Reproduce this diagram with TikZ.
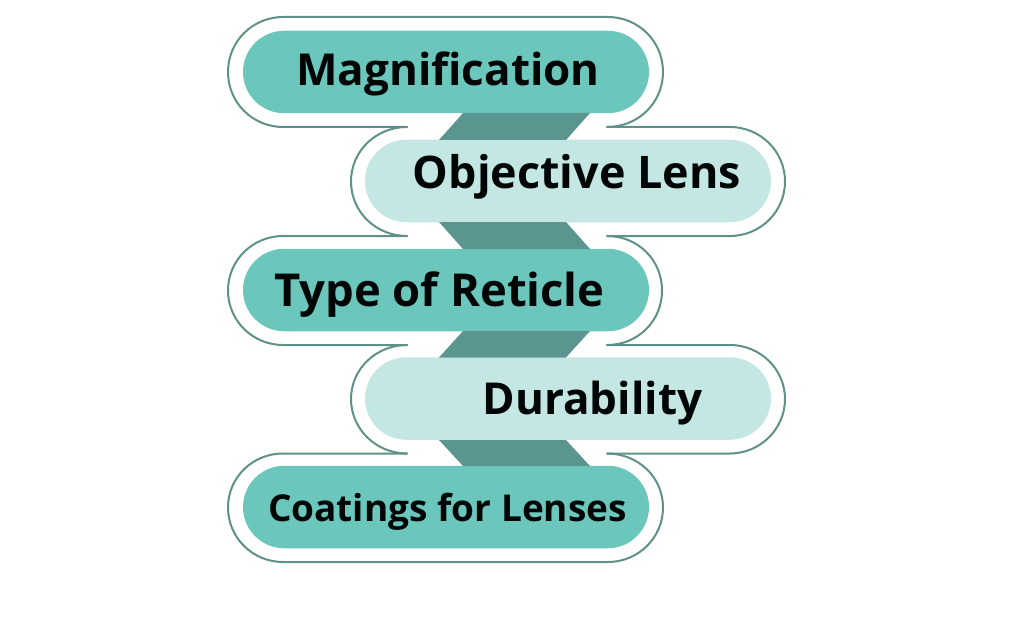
\documentclass[tikz,border=0pt]{standalone}
\usepackage{fontspec}
\setmainfont{Open Sans}
\usetikzlibrary{shapes.misc}
\definecolor{tealdark}{HTML}{6BC7BC}
\definecolor{teallight}{HTML}{C5E7E3}
\definecolor{bridge}{HTML}{5A968F}
\definecolor{edgeline}{HTML}{5F9189}
\tikzset{
  x=1pt,y=-1pt,
  pill/.style={rounded rectangle,draw=none,minimum width=406pt,minimum height=82.5pt,inner sep=0pt},
  pilldark/.style={pill,fill=tealdark},
  pilllight/.style={pill,fill=teallight},
  link/.style={fill=bridge,draw=none},
  contour/.style={draw=edgeline,line width=2pt,line cap=round},
  caption/.style={anchor=base,inner sep=0pt,text=black!95!teal,font=\bfseries}
}
\begin{document}
\begin{tikzpicture}
\useasboundingbox (0,0) rectangle (1011,639);
\fill[white] (0,0) rectangle (1011,639);
% pills
\node[pilldark]  (p1) at (446,72)   {};
\node[pilllight] (p2) at (568,181)  {};
\node[pilldark]  (p3) at (446,290)  {};
\node[pilllight] (p4) at (568,398.5){};
\node[pilldark]  (p5) at (446,507)  {};
% links between pills
\fill[link] (463,113) -- (590,113) -- (566,140) -- (439,140) -- cycle;
\fill[link] (439,222) -- (566,222) -- (590,249) -- (463,249) -- cycle;
\fill[link] (463,331) -- (590,331) -- (566,357.5) -- (439,357.5) -- cycle;
\fill[link] (439,440) -- (566,440) -- (590,466) -- (463,466) -- cycle;
% outlines
\coordinate (a1) at (407,127);
\coordinate (b1) at (607,127);
\coordinate (a2) at (407,236);
\coordinate (b2) at (607,236);
\coordinate (a3) at (407,345);
\coordinate (b3) at (607,345);
\coordinate (a4) at (407,453.5);
\coordinate (b4) at (607,453.5);
\path[contour] (b1) .. controls (638,127) and (663,103) .. (663,72)
  .. controls (663,41) and (638,17) .. (608,17) -- (283,17)
  .. controls (253,17) and (228,41) .. (228,72)
  .. controls (228,103) and (253,127) .. (283,127) -- (a1);
\path[contour] (a1) .. controls (376,127) and (351,151) .. (351,181.5)
  .. controls (351,212) and (376,236) .. (a2);
\path[contour] (b1) -- (730,127) .. controls (760,127) and (785,151) .. (785,181.5)
  .. controls (785,212) and (760,236) .. (730,236) -- (b2);
\path[contour] (a2) -- (283,236) .. controls (253,236) and (228,260) .. (228,290.5)
  .. controls (228,321) and (253,345) .. (283,345) -- (a3);
\path[contour] (b2) .. controls (638,236) and (662,260) .. (662,290.5)
  .. controls (662,321) and (638,345) .. (b3);
\path[contour] (a3) .. controls (376,345) and (351,369) .. (351,399)
  .. controls (351,429) and (376,453.5) .. (a4);
\path[contour] (b3) -- (730,345) .. controls (760,345) and (785,369) .. (785,399)
  .. controls (785,429) and (760,453.5) .. (730,453.5) -- (b4);
\path[contour] (a4) -- (283,453.5) .. controls (253,453.5) and (228,477) .. (228,507.5)
  .. controls (228,538) and (253,562) .. (283,562) -- (608,562)
  .. controls (638,562) and (663,538) .. (663,507.5)
  .. controls (663,477) and (638,453.5) .. (b4);
% captions
\node[caption,font=\bfseries\fontsize{44}{44}\selectfont] (t1) at (448,86) {Magnification};
\node[caption,font=\bfseries\fontsize{44.9}{45}\selectfont] (t2) at (577,189) {Objective Lens};
\node[caption,font=\bfseries\fontsize{45.4}{46}\selectfont] (t3) at (439.5,306) {Type of Reticle};
\node[caption,font=\bfseries\fontsize{44}{44}\selectfont] (t4) at (592.5,414) {Durability};
\node[caption,font=\bfseries\fontsize{37}{37}\selectfont] (t5) at (447.5,521) {Coatings for Lenses};
\end{tikzpicture}
\end{document}
